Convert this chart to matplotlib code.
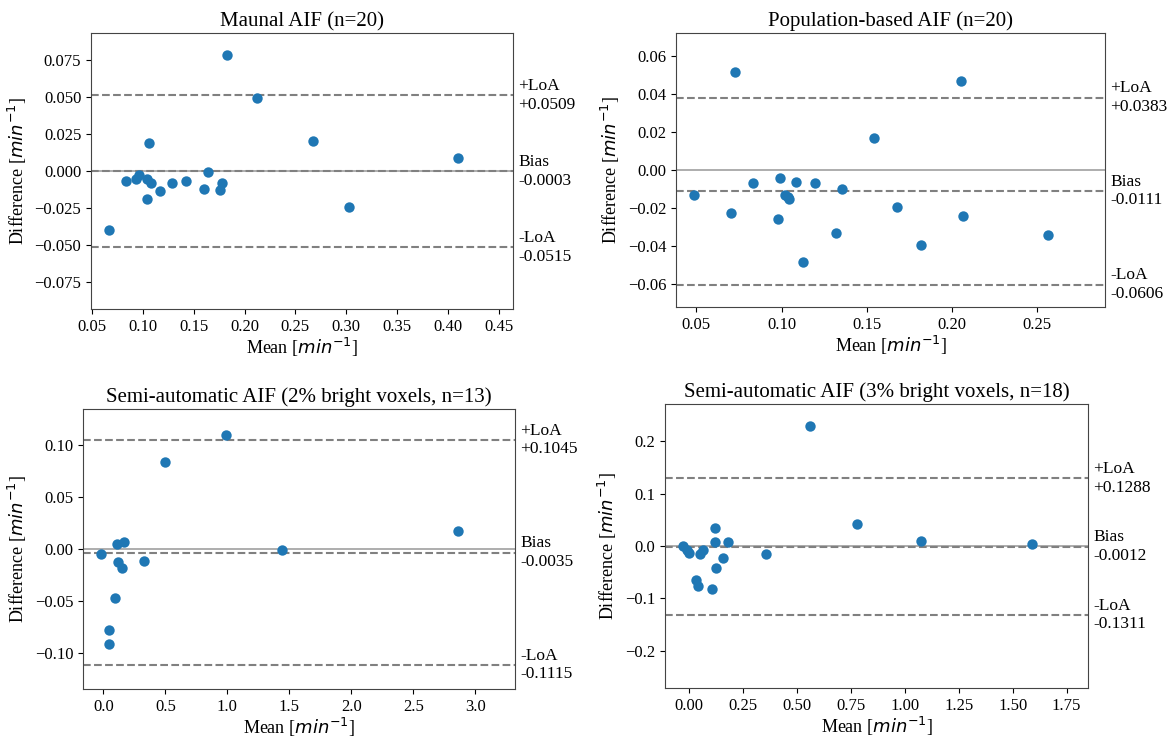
import matplotlib
matplotlib.use("Agg")
import matplotlib.pyplot as plt
import matplotlib.transforms as mtransforms
from matplotlib.ticker import MultipleLocator, FormatStrFormatter

plt.rcParams['font.family'] = 'serif'
plt.rcParams['font.serif'] = ['Liberation Serif', 'DejaVu Serif']
plt.rcParams['mathtext.fontset'] = 'dejavusans'

# ---- Data ----
titles = ["Maunal AIF (n=20)",
          "Population-based AIF (n=20)",
          "Semi-automatic AIF (2% bright voxels, n=13)",
          "Semi-automatic AIF (3% bright voxels, n=18)"]

manual_mean = [0.0667, 0.083, 0.0935, 0.0964, 0.1042, 0.1056, 0.1042, 0.1078, 0.1173, 0.1288,
               0.1422, 0.1605, 0.1637, 0.1761, 0.1775, 0.1824, 0.2118, 0.2676, 0.3029, 0.4098]
manual_diff = [-0.0399, -0.0070, -0.0056, -0.0029, -0.0056, 0.0189, -0.0191, -0.0083, -0.0137, -0.0083,
               -0.0065, -0.0122, -0.0009, -0.0131, -0.0083, 0.0782, 0.0495, 0.0200, -0.0243, 0.0086]
manual_stats = [0.0509, -0.0003, -0.0515]

pop_mean = [0.0486, 0.0703, 0.0727, 0.0832, 0.0979, 0.0991, 0.1018, 0.1036, 0.1042, 0.1087,
            0.1126, 0.1194, 0.1317, 0.1354, 0.1542, 0.1677, 0.1820, 0.2052, 0.2064, 0.2568]
pop_diff = [-0.0132, -0.0226, 0.0517, -0.0070, -0.0261, -0.0043, -0.0134, -0.0141, -0.0151, -0.0063,
            -0.0487, -0.0071, -0.0332, -0.0101, 0.0167, -0.0193, -0.0398, 0.0468, -0.0243, -0.0343]
pop_stats = [0.0383, -0.0111, -0.0606]

semi2_mean = [-0.019, 0.043, 0.048, 0.094, 0.113, 0.121, 0.153, 0.167, 0.328, 0.497, 0.987, 1.441, 2.858]
semi2_diff = [-0.0048, -0.0782, -0.0910, -0.0468, 0.0045, -0.0128, -0.0183, 0.0071, -0.0119, 0.0833,
              0.1096, -0.0010, 0.0170]
semi2_stats = [0.1045, -0.0035, -0.1115]

semi3_mean = [-0.031, -0.012, -0.002, 0.029, 0.040, 0.049, 0.062, 0.104, 0.117, 0.119,
              0.122, 0.156, 0.181, 0.356, 0.560, 0.778, 1.076, 1.589]
semi3_diff = [-0.0006, -0.0083, -0.014, -0.064, -0.076, -0.0146, -0.007, -0.081, 0.034, 0.0076,
              -0.042, -0.0235, 0.0083, -0.0153, 0.229, 0.0413, 0.0089, 0.0032]
semi3_stats = [0.1288, -0.0012, -0.1311]

# ---- Layout ----
W, H = 1174, 740
fig = plt.figure(figsize=(W / 100, H / 100), dpi=100)

def rect(l, t, r, b):
    return [l / W, 1 - b / H, (r - l) / W, (b - t) / H]

panels = [
    (rect(91, 33, 513, 309), manual_mean, manual_diff, manual_stats, (0.049, 0.464), 0.093, 0.05, '%.2f'),
    (rect(676, 33, 1105, 307), pop_mean, pop_diff, pop_stats, (0.038, 0.290), 0.0724, 0.05, '%.2f'),
    (rect(83, 409, 515, 689), semi2_mean, semi2_diff, semi2_stats, (-0.165, 3.32), 0.1345, 0.5, '%.1f'),
    (rect(665, 404, 1088, 688), semi3_mean, semi3_diff, semi3_stats, (-0.113, 1.849), 0.2705, 0.25, '%.2f'),
]

for (pos, xm, yd, stats, xl, yl, xstep, xfmt), title in zip(panels, titles):
    ax = fig.add_axes(pos)
    ax.axhline(0, color='#a0a0a0', lw=1.2, zorder=1)
    for v in stats:
        ax.axhline(v, color='gray', ls='--', lw=1.5, zorder=1)
    ax.scatter(xm, yd, s=56, color='#1f77b4', zorder=3, linewidths=0)
    ax.set_xlim(*xl)
    ax.set_ylim(-yl, yl)
    ax.xaxis.set_major_locator(MultipleLocator(xstep))
    ax.xaxis.set_major_formatter(FormatStrFormatter(xfmt))
    ax.set_title(title, fontsize=15, pad=5)
    ax.set_xlabel(r'Mean [$min^{-1}$]', fontsize=13, labelpad=1)
    ax.set_ylabel(r'Difference [$min^{-1}$]', fontsize=13)
    ax.tick_params(labelsize=12)
    for sp in ax.spines.values():
        sp.set_color('#444444')
    trans = mtransforms.blended_transform_factory(ax.transAxes, ax.transData)
    labels = ["+LoA\n+%.4f" % stats[0], "Bias\n%.4f" % stats[1], "-LoA\n%.4f" % stats[2]]
    for v, lab in zip(stats, labels):
        ax.text(1.012, v, lab, transform=trans, ha='left', va='center', fontsize=12.5)

fig.savefig("out.png", dpi=100)
